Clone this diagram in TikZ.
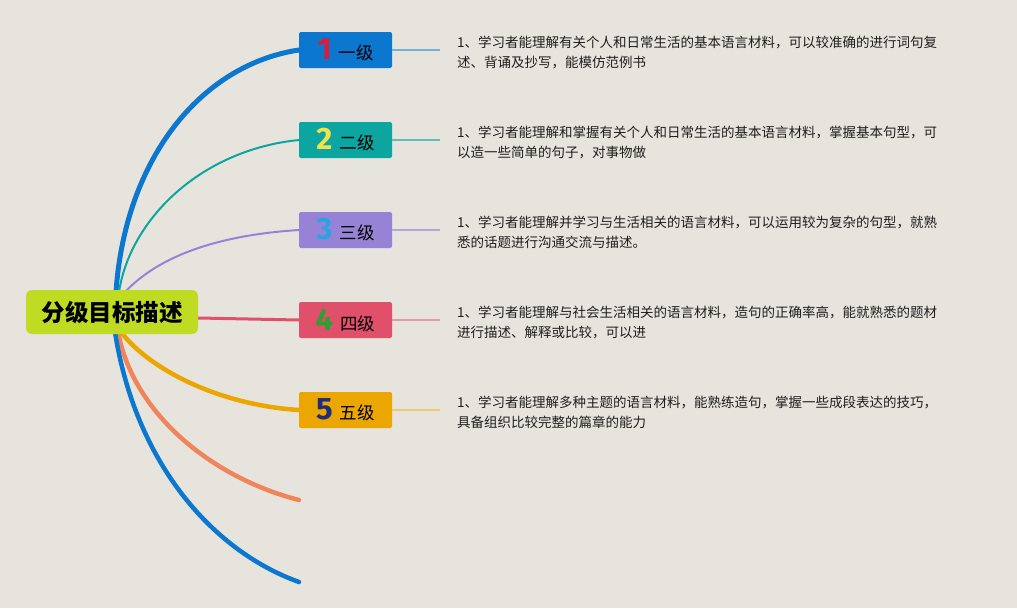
\documentclass[tikz,border=0pt]{standalone}
\usepackage{fontspec}
\newfontfamily\cjk{Noto Sans CJK SC}
\newfontfamily\digitfont{Fira Sans}
\usetikzlibrary{backgrounds}
\definecolor{paper}{HTML}{E7E4DD}
\definecolor{rootgreen}{HTML}{BFDC22}
\definecolor{box1}{HTML}{0B77CF}
\definecolor{box2}{HTML}{0DA59F}
\definecolor{box3}{HTML}{9783D6}
\definecolor{box4}{HTML}{E0506A}
\definecolor{box5}{HTML}{EBA700}
\definecolor{dig1}{HTML}{D42040}
\definecolor{dig2}{HTML}{F2E34A}
\definecolor{dig3}{HTML}{2BA3E0}
\definecolor{dig4}{HTML}{2E9E35}
\definecolor{dig5}{HTML}{1F2B7B}
\definecolor{lin1}{HTML}{7AAFD6}
\definecolor{lin2}{HTML}{5FBDB6}
\definecolor{lin3}{HTML}{B3A6DC}
\definecolor{lin4}{HTML}{E49AA5}
\definecolor{lin5}{HTML}{EDC870}
\definecolor{branchorange}{HTML}{F0845A}
\definecolor{textgray}{HTML}{1E1E1E}
\tikzset{
  levelbox/.style={fill=#1, rounded corners=2pt, minimum width=93pt, minimum height=36pt, inner sep=0pt},
  desc/.style={anchor=west, align=left, inner sep=0pt, text=textgray, font=\cjk\fontsize{13.5}{19.5}\selectfont},
  branch/.style={line cap=round, line width=#1}
}
\begin{document}
\begin{tikzpicture}[x=1pt,y=-1pt]
    \begin{pgfonlayer}{background}
        \fill[paper] (0,0) rectangle (1017,608);
    \end{pgfonlayer}
    \node[fill=rootgreen, rounded corners=6pt, minimum width=172pt, minimum height=44pt, inner sep=0pt,
        font=\cjk\bfseries\fontsize{23.5}{28}\selectfont] (root) at (112,312) {分级目标描述};
    \foreach \i/\y/\lbl/\txt in {
        1/50/一级/{1、学习者能理解有关个人和日常生活的基本语言材料，可以较准确的进行词句复\\述、背诵及抄写，能模仿范例书},
        2/140/二级/{1、学习者能理解和掌握有关个人和日常生活的基本语言材料，掌握基本句型，可\\以造一些简单的句子，对事物做},
        3/230/三级/{1、学习者能理解并学习与生活相关的语言材料，可以运用较为复杂的句型，就熟\\悉的话题进行沟通交流与描述。},
        4/320/四级/{1、学习者能理解与社会生活相关的语言材料，造句的正确率高，能就熟悉的题材\\进行描述、解释或比较，可以进},
        5/410/五级/{1、学习者能理解多种主题的语言材料，能熟练造句，掌握一些成段表达的技巧，\\具备组织比较完整的篇章的能力}} {
        \node[levelbox=box\i] (b\i) at (345.5,\y)
            {{\digitfont\bfseries\fontsize{31}{31}\selectfont\textcolor{dig\i}{\i}}\hspace{7pt}{\cjk\fontsize{17.5}{20}\selectfont\lbl}};
        \node[desc] (d\i) at (457,\y+2.5) {\txt};
        \draw[lin\i, line width=1.3pt, shorten >=17pt] (b\i.east) -- (b\i.east -| d\i.west);
    }
    \coordinate (t1) at (116,292);
    \coordinate (t2) at (119,292);
    \coordinate (t3) at (125,292);
    \coordinate (r4) at ([yshift=-6pt]root.east);
    \coordinate (u5) at (121,332);
    \coordinate (u6) at (118,332);
    \coordinate (u7) at (115,332);
    \coordinate (e6) at (299,500);
    \coordinate (e7) at (299,582);
    \begin{pgfonlayer}{background}
        \draw[box1, branch=5pt] (t1) .. controls (125,160) and (200,65) .. (b1.west);
        \draw[box2, branch=2pt] (t2) .. controls (130,220) and (200,150) .. (b2.west);
        \draw[box3, branch=2pt] (t3) .. controls (160,255) and (220,235) .. (b3.west);
        \draw[box4, branch=3pt] (r4) -- (b4.west);
        \draw[box5, branch=4.5pt] (u5) .. controls (150,370) and (220,405) .. (b5.west);
        \draw[branchorange, branch=4.5pt] (u6) .. controls (135,420) and (220,480) .. (e6);
        \draw[box1, branch=4.5pt] (u7) .. controls (135,460) and (210,550) .. (e7);
    \end{pgfonlayer}
\end{tikzpicture}
\end{document}
